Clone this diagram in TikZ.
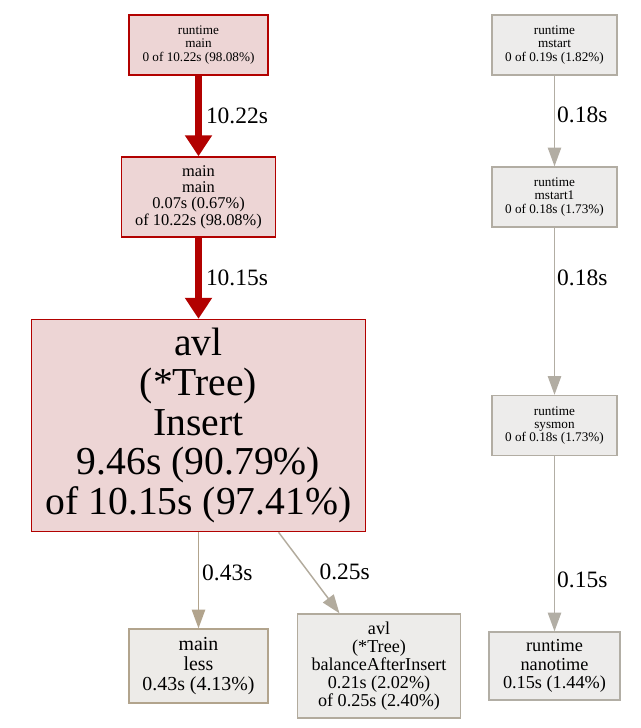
\documentclass[tikz,border=0pt]{standalone}
\usepackage{fontspec}
\setmainfont{Liberation Serif}
\usetikzlibrary{positioning,arrows.meta}
\definecolor{hotfill}{HTML}{EDD5D5}
\definecolor{hotline}{HTML}{B20100}
\definecolor{lessfill}{HTML}{EDEBE8}
\definecolor{lessline}{HTML}{B2A48D}
\definecolor{balfill}{HTML}{EDECEA}
\definecolor{balline}{HTML}{B2AB9D}
\definecolor{rtfill}{HTML}{EDECEB}
\definecolor{rtline}{HTML}{B2ADA3}
\definecolor{nanoline}{HTML}{B2AEA5}

\begin{document}
\begin{tikzpicture}[%
    x=0.75pt, y=-0.75pt,        % One unit is one pixel of the profile
    node distance=114pt,        % Rank to rank, center to center
    ]
% -------------------------------------------------
% A few box styles
% <on grid> keeps the distances center to center
\tikzset{
  base/.style={draw, on grid, align=center, inner sep=0pt, line width=1.1pt},
  hot/.style={base, fill=hotfill, draw=hotline},
  cold/.style={base, fill=rtfill, draw=rtline},
  sm/.style={font=\rmfamily\fontsize{9.9}{9.9}\selectfont, minimum width=93.75pt, minimum height=45pt},
  % Connector line styles for the two weights
  tk/.style={-{Triangle[width=19.5pt,length=15.75pt]}, line width=5.25pt, draw=hotline},
  tn/.style={-{Triangle[width=10pt,length=14pt]}, line width=1.1pt},
  lb/.style={font=\rmfamily\fontsize{17.6}{17.6}\selectfont, inner sep=0pt, anchor=west}
}
\useasboundingbox (0,0) rectangle (640,728);
% -------------------------------------------------
% Start by placing the nodes

\node [hot, sm, minimum width=104.25pt] (rmain) at (198.5,45) {runtime\\main\\0 of 10.22s (98.08\%)};
\node [hot, below = of rmain, font=\rmfamily\fontsize{12.3}{12.3}\selectfont,
  minimum width=115.5pt, minimum height=60pt] (mmain) {main\\main\\0.07s (0.67\%)\\of 10.22s (98.08\%)};
\node [hot, below = 171.4pt of mmain, font=\rmfamily\fontsize{29.7}{29.7}\selectfont,
  minimum width=250.5pt, minimum height=159pt] (insert) {avl\\(*Tree)\\Insert\\9.46s (90.79\%)\\of 10.15s (97.41\%)};
\node [base, fill=lessfill, draw=lessline, below = 180.4pt of insert, font=\rmfamily\fontsize{14.9}{14.9}\selectfont,
  minimum width=104.25pt, minimum height=55.5pt] (less) {main\\less\\0.43s (4.13\%)};
\node [base, fill=balfill, draw=balline, below = 180.4pt of insert, xshift=135.4pt, font=\rmfamily\fontsize{13.6}{13.6}\selectfont,
  minimum width=122.25pt, minimum height=78pt] (bal) {avl\\(*Tree)\\balanceAfterInsert\\0.21s (2.02\%)\\of 0.25s (2.40\%)};

\node [cold, sm] (mstart) at (554.5,45) {runtime\\mstart\\0 of 0.19s (1.82\%)};
\node [cold, sm, below = of mstart] (mstart1) {runtime\\mstart1\\0 of 0.18s (1.73\%)};
\node [cold, sm, below = 171.4pt of mstart1] (sysmon) {runtime\\sysmon\\0 of 0.18s (1.73\%)};
\node [cold, draw=nanoline, below = 180.4pt of sysmon, font=\rmfamily\fontsize{13.7}{13.7}\selectfont,
  minimum width=98.25pt, minimum height=51pt] (nanotime) {runtime\\nanotime\\0.15s (1.44\%)};

\draw[tk] (rmain) -- node[lb, xshift=3pt] {10.22s} (mmain);		%runtime main,main main
\draw[tk] (mmain) -- node[lb, xshift=3pt] {10.15s} (insert);		%main main,Insert
\draw[tn, draw=lessline] (insert) -- node[lb, pos=.42, xshift=2.25pt] {0.43s} (less);		%Insert,less
\draw[tn, draw=balline] (insert) -- node[lb, pos=.49, xshift=7.8pt] {0.25s} (bal);		%Insert,balanceAfterInsert
\draw[tn, draw=rtline] (mstart) -- node[lb, pos=.435, xshift=1.5pt] {0.18s} (mstart1);		%mstart,mstart1
\draw[tn, draw=rtline] (mstart1) -- node[lb, pos=.3, xshift=1.5pt] {0.18s} (sysmon);		%mstart1,sysmon
\draw[tn, draw=nanoline] (sysmon) -- node[lb, pos=.705, xshift=1.5pt] {0.15s} (nanotime);		%sysmon,nanotime

% -------------------------------------------------
\end{tikzpicture}
\end{document}
